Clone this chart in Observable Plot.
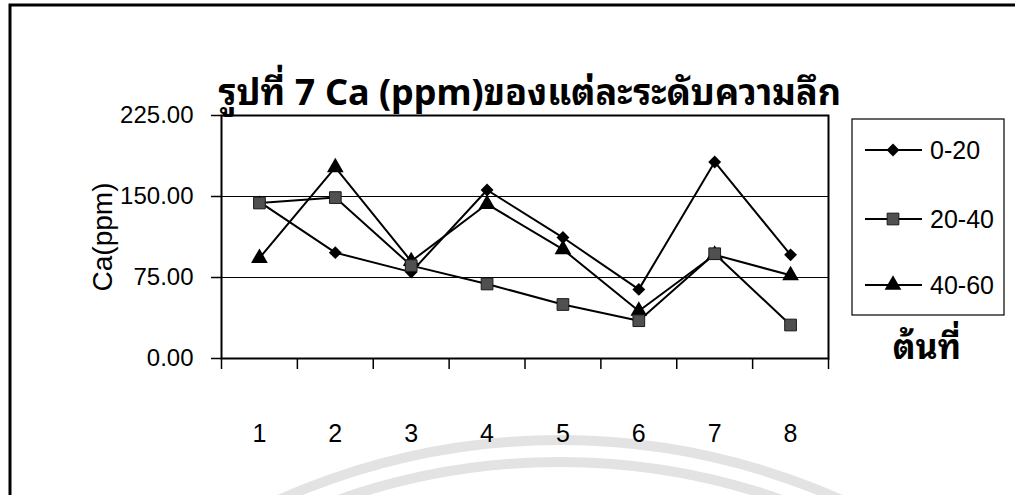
<!DOCTYPE html>
<html>
<head>
<meta charset="utf-8">
<script src="https://cdn.jsdelivr.net/npm/d3@7"></script>
<script src="https://cdn.jsdelivr.net/npm/@observablehq/plot@0.6"></script>
<style>
  body { margin: 0; background: #fff; }
  #chart { position: relative; width: 1015px; height: 495px; overflow: hidden; }
</style>
</head>
<body>
<div id="chart"></div>
<script>
// Tree number (ต้นที่) along the x axis
const trees = [1, 2, 3, 4, 5, 6, 7, 8];
// Soil depth classes (cm)
const depths = ["0-20", "20-40", "40-60"];
// Ca (ppm) per tree for each depth
const ca0_20  = [145, 98, 80, 156, 112, 64, 182, 96];
const ca20_40 = [144, 149, 86, 69, 50, 35, 97, 31];
const ca40_60 = [93, 177, 90, 143, 101, 44, 96, 77];
const yTicks = [0, 75, 150, 225];
const gridValues = [75, 150];

const title = "รูปที่ 7 Ca (ppm)ของแต่ละระดับความลึก";
const yLabel = "Ca(ppm)";
const xLabel = "ต้นที่";

const seriesValues = [ca0_20, ca20_40, ca40_60];
const symbols = ["diamond2", "square", "triangle"];
const fills = ["#000", "#505050", "#000"];
const radii = [5.8, 6.6, 6.2];

const rows = depths.flatMap((d, i) =>
  trees.map((t, j) => ({tree: t, depth: d, ca: seriesValues[i][j]}))
);
// category boundaries for the x tick marks
const boundaries = [trees[0] - 0.5, ...trees.map(t => t + 0.5)];

const thaiFont = "Tahoma, 'Noto Sans Thai Looped', 'Noto Sans Thai', Loma, Garuda, 'DejaVu Sans', sans-serif";
const baseFont = "'Liberation Sans', Arial, sans-serif";

// draw order: diamonds, triangles, then squares on top
const drawOrder = [0, 2, 1];

const plot = Plot.plot({
  width: 1015,
  height: 495,
  marginLeft: 221,
  marginRight: 187,
  marginTop: 115,
  marginBottom: 137,
  x: {domain: [boundaries[0], boundaries[boundaries.length - 1]], axis: null},
  y: {domain: [0, 225], axis: null},
  style: {fontFamily: baseFont, background: "white", color: "black"},
  marks: [
    Plot.ruleY(gridValues, {stroke: "black", strokeWidth: 1}),
    Plot.frame({stroke: "black", strokeWidth: 2}),
    Plot.axisY(yTicks, {
      tickSize: 10, tickPadding: 18, fontSize: 24, strokeWidth: 1.5,
      tickFormat: d => d.toFixed(2), label: null
    }),
    Plot.axisX(boundaries, {tickSize: 11, tickFormat: () => "", strokeWidth: 1.5, label: null}),
    Plot.axisX(trees, {tickSize: 0, tickPadding: 66, fontSize: 25, tickFormat: d => String(d), label: null}),
    Plot.line(rows, {x: "tree", y: "ca", z: "depth", stroke: "black", strokeWidth: 2}),
    ...drawOrder.map(i =>
      Plot.dot(rows.filter(r => r.depth === depths[i]), {
        x: "tree", y: "ca", symbol: () => symbols[i],
        fill: fills[i], stroke: i === 1 ? "#1a1a1a" : "none", strokeWidth: 1, r: radii[i]
      })
    ),
    Plot.text([yLabel], {
      frameAnchor: "left", rotate: -90, dx: -118, fontSize: 28,
      textAnchor: "middle", lineAnchor: "middle"
    }),
    Plot.text([xLabel], {
      frameAnchor: "bottom-right", dx: 64, dy: -10, fontSize: 34, fontWeight: "bold",
      textAnchor: "start", lineAnchor: "middle", fontFamily: thaiFont
    }),
    Plot.text([title], {
      frameAnchor: "top-left", dx: -3, dy: -22, fontSize: 36, fontWeight: "bold",
      textAnchor: "start", lineAnchor: "middle", fontFamily: thaiFont
    })
  ],
  symbol: {domain: symbols, range: symbols}
});

document.getElementById("chart").appendChild(plot);

const svg = d3.select(plot);

// faint stamp arcs along the bottom of the page
const stamp = svg.insert("g", ":first-child")
  .attr("fill", "none").attr("stroke", "#e3e3e3").attr("stroke-width", 10);
stamp.append("circle").attr("cx", 560).attr("cy", 1130).attr("r", 690);
stamp.append("circle").attr("cx", 560).attr("cy", 1130).attr("r", 668);

// outer page frame
svg.insert("path", ":first-child")
  .attr("d", "M10,495V5H1015")
  .attr("fill", "none").attr("stroke", "black").attr("stroke-width", 3);

// legend box
const legend = svg.append("g").attr("font-family", baseFont).attr("text-anchor", "start");
legend.append("rect")
  .attr("x", 852).attr("y", 119).attr("width", 152).attr("height", 196)
  .attr("fill", "white").attr("stroke", "black").attr("stroke-width", 1.2);
const symbolTypes = {diamond2: d3.symbolDiamond2, square: d3.symbolSquare, triangle: d3.symbolTriangle};
const rowY = [150, 219, 285];
depths.forEach((d, i) => {
  const g = legend.append("g").attr("transform", `translate(0,${rowY[i]})`);
  g.append("line").attr("x1", 865).attr("x2", 922).attr("y1", 0).attr("y2", 0)
    .attr("stroke", "black").attr("stroke-width", 2);
  const area = Math.PI * radii[i] * radii[i];
  g.append("path")
    .attr("transform", "translate(893,0)")
    .attr("d", d3.symbol(symbolTypes[symbols[i]], area)())
    .attr("fill", fills[i])
    .attr("stroke", i === 1 ? "#1a1a1a" : "none");
  g.append("text").attr("x", 930).attr("y", 9).attr("font-size", 25)
    .attr("text-anchor", "start").attr("fill", "black").text(d);
});
</script>
</body>
</html>
